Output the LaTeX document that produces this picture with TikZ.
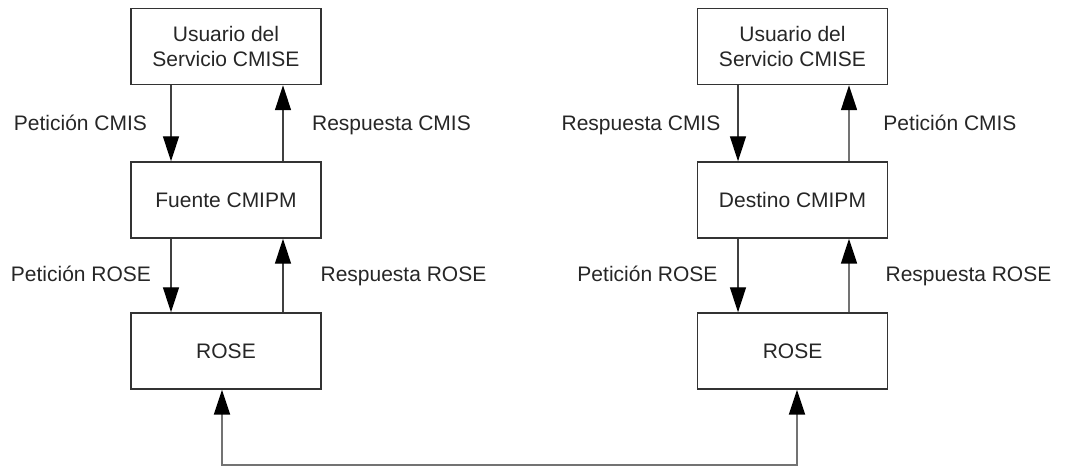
\documentclass[tikz,border=0pt]{standalone}
\usepackage{fontspec}
\setmainfont{Liberation Sans}
\usetikzlibrary{arrows.meta}
\begin{document}
\begin{tikzpicture}[x=1pt,y=-1pt,
  box/.style={draw=black!80, line width=1.4pt, rectangle, inner sep=0pt,
    minimum width=190pt, minimum height=76pt, align=center,
    text=black!85, font=\fontsize{21}{25}\selectfont},
  lbl/.style={anchor=base, inner sep=0pt, text=black!85, font=\fontsize{21}{25}\selectfont},
  tip/.tip={Triangle[width=16pt,length=25pt,color=black]},
  arr/.style={draw=black!75, line width=1.3pt, -tip},
  garr/.style={draw=black!55, line width=1.6pt, -tip},
  link/.style={draw=black!55, line width=2pt, tip-tip}
]
\useasboundingbox (0,0) rectangle (1065,467);

% left column
\node[box] (u1) at (226,46.5) {Usuario del\\Servicio CMISE};
\node[box] (f1) at (226,200) {Fuente CMIPM};
\node[box] (r1) at (226,351) {ROSE};

% right column
\node[box] (u2) at (792.5,46.5) {Usuario del\\Servicio CMISE};
\node[box] (f2) at (792.5,200) {Destino CMIPM};
\node[box] (r2) at (792.5,351) {ROSE};

% left arrows
\draw[arr] ([xshift=-55pt]u1.south) -- ([xshift=-55pt]f1.north);
\draw[arr] ([xshift=57pt]f1.north) -- ([xshift=57pt]u1.south);
\draw[arr] ([xshift=-55pt]f1.south) -- ([xshift=-55pt]r1.north);
\draw[arr] ([xshift=57pt]r1.north) -- ([xshift=57pt]f1.south);

% right arrows
\draw[arr] ([xshift=-54.5pt]u2.south) -- ([xshift=-54.5pt]f2.north);
\draw[garr] ([xshift=56.5pt]f2.north) -- ([xshift=56.5pt]u2.south);
\draw[arr] ([xshift=-54.5pt]f2.south) -- ([xshift=-54.5pt]r2.north);
\draw[garr] ([xshift=56.5pt]r2.north) -- ([xshift=56.5pt]f2.south);

% bottom link
\coordinate (c1) at (222,465);
\coordinate (c2) at (797,465);
\draw[link] ([xshift=-4pt]r1.south) -- (c1) -- (c2) -- ([xshift=4.5pt]r2.south);

% labels
\node[lbl] (l1) at (80.5,130) {Petición CMIS};
\node[lbl] (l2) at (391.5,130) {Respuesta CMIS};
\node[lbl] (l3) at (81,281) {Petición ROSE};
\node[lbl] (l4) at (403.5,281) {Respuesta ROSE};
\node[lbl] (l5) at (641,130) {Respuesta CMIS};
\node[lbl] (l6) at (950,130) {Petición CMIS};
\node[lbl] (l7) at (647.5,281) {Petición ROSE};
\node[lbl] (l8) at (968.5,281) {Respuesta ROSE};
\end{tikzpicture}
\end{document}
